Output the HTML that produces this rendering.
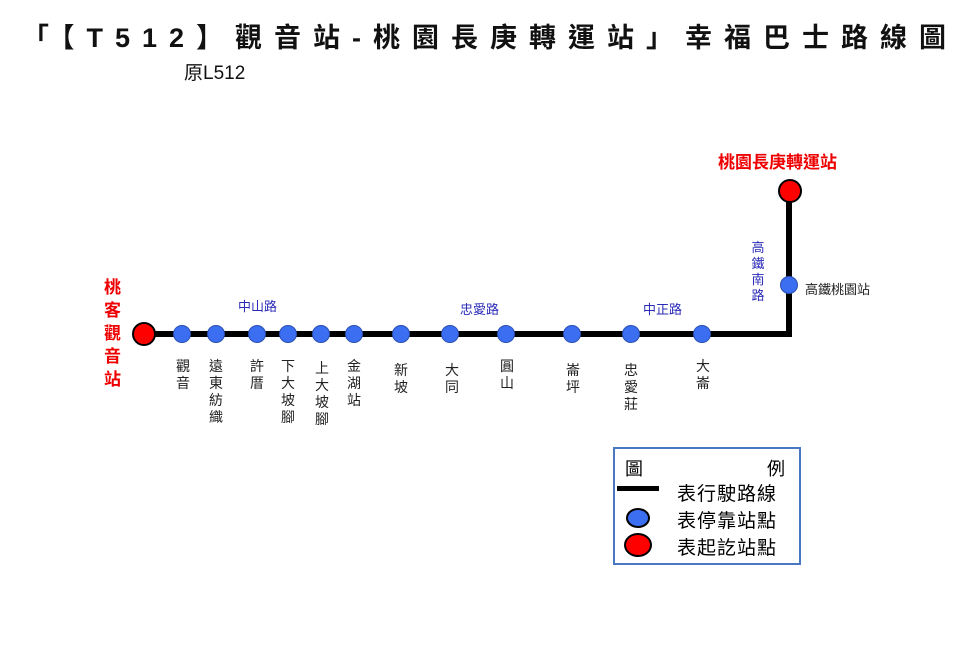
<!DOCTYPE html>
<html><head><meta charset="utf-8"><style>
body{margin:0;width:960px;height:665px;background:#fff;overflow:hidden;position:relative;font-family:"Liberation Sans","Noto Sans CJK TC",sans-serif}
.a{position:absolute}
.v{position:absolute;width:16px;font-size:14px;line-height:17px;text-align:center;color:#222}
.d{position:absolute;width:18px;height:18px;border-radius:50%;background:#3b6ef0;border:1px solid #2a4fb0;box-sizing:border-box}
.r{position:absolute;font-size:13px;color:#2b2bb8}
</style></head><body>
<div class="a" style="left:22px;top:16px;font-size:27px;font-weight:bold;letter-spacing:12px;white-space:nowrap;color:#111">「【T512】觀音站-桃園長庚轉運站」幸福巴士路線圖</div>
<div class="a" style="left:184px;top:58px;font-size:19px;color:#111">原L512</div>
<div class="a" style="left:143px;top:331px;width:649px;height:6px;background:#000"></div>
<div class="a" style="left:786px;top:190px;width:6px;height:147px;background:#000"></div>
<div class="a" style="left:132px;top:322px;width:24px;height:24px;border-radius:50%;background:#f00;border:2px solid #000;box-sizing:border-box"></div>
<div class="a" style="left:778px;top:179px;width:24px;height:24px;border-radius:50%;background:#f00;border:2px solid #000;box-sizing:border-box"></div>
<div class="a" style="left:718px;top:148px;font-size:17px;font-weight:bold;color:#e00">桃園長庚轉運站</div>
<div class="a" style="left:104px;top:276px;width:20px;font-size:17px;line-height:23px;font-weight:bold;color:#e00">桃客觀音站</div>
<div class="d" style="left:173px;top:325px"></div>
<div class="d" style="left:207px;top:325px"></div>
<div class="d" style="left:248px;top:325px"></div>
<div class="d" style="left:279px;top:325px"></div>
<div class="d" style="left:312px;top:325px"></div>
<div class="d" style="left:345px;top:325px"></div>
<div class="d" style="left:392px;top:325px"></div>
<div class="d" style="left:441px;top:325px"></div>
<div class="d" style="left:497px;top:325px"></div>
<div class="d" style="left:563px;top:325px"></div>
<div class="d" style="left:622px;top:325px"></div>
<div class="d" style="left:693px;top:325px"></div>
<div class="d" style="left:780px;top:276px"></div>
<div class="a" style="left:805px;top:279px;font-size:13px;color:#222">高鐵桃園站</div>
<div class="v" style="left:750px;top:240px;color:#2b2bb8;font-size:13px;line-height:16px">高鐵南路</div>
<div class="r" style="left:238px;top:296px">中山路</div>
<div class="r" style="left:460px;top:299px">忠愛路</div>
<div class="r" style="left:643px;top:299px">中正路</div>
<div class="v" style="left:175px;top:358px">觀音</div>
<div class="v" style="left:208px;top:358px">遠東紡織</div>
<div class="v" style="left:249px;top:358px">許厝</div>
<div class="v" style="left:280px;top:358px">下大坡腳</div>
<div class="v" style="left:314px;top:360px">上大坡腳</div>
<div class="v" style="left:346px;top:358px">金湖站</div>
<div class="v" style="left:393px;top:362px">新坡</div>
<div class="v" style="left:444px;top:362px">大同</div>
<div class="v" style="left:499px;top:358px">圓山</div>
<div class="v" style="left:565px;top:362px">崙坪</div>
<div class="v" style="left:623px;top:362px">忠愛莊</div>
<div class="v" style="left:695px;top:358px">大崙</div>
<div class="a" style="left:613px;top:447px;width:188px;height:118px;border:2px solid #4a78c0;box-sizing:border-box"></div>
<div class="a" style="left:625px;top:455px;font-size:18px">圖</div>
<div class="a" style="left:767px;top:455px;font-size:18px">例</div>
<div class="a" style="left:617px;top:486px;width:42px;height:5px;background:#000"></div>
<div class="a" style="left:677px;top:479px;font-size:19px;letter-spacing:1px">表行駛路線</div>
<div class="a" style="left:626px;top:508px;width:24px;height:20px;border-radius:50%;background:#3b6ef0;border:2px solid #000;box-sizing:border-box"></div>
<div class="a" style="left:677px;top:506px;font-size:19px;letter-spacing:1px">表停靠站點</div>
<div class="a" style="left:624px;top:533px;width:28px;height:24px;border-radius:50%;background:#f00;border:2px solid #000;box-sizing:border-box"></div>
<div class="a" style="left:677px;top:533px;font-size:19px;letter-spacing:1px">表起訖站點</div>
</body></html>
